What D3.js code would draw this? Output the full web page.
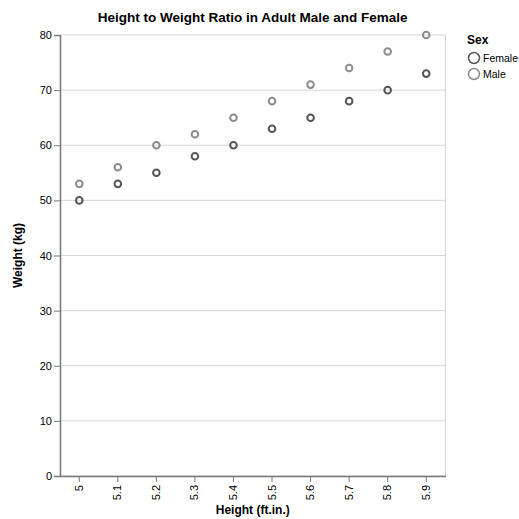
<!DOCTYPE html>
<html><head><meta charset="utf-8">
<script src="https://cdn.jsdelivr.net/npm/d3@7"></script>
<style>body{margin:0;background:#fff}svg{font-family:"Liberation Sans",Arial,sans-serif}</style>
</head><body>
<svg id="c" width="519" height="519"></svg>
<script>
const heights = ["5","5.1","5.2","5.3","5.4","5.5","5.6","5.7","5.8","5.9"];
const femaleWeights = [50,53,55,58,60,63,65,68,70,73];
const maleWeights = [53,56,60,62,65,68,71,74,77,80];
const sexes = ["Female","Male"];
const yTicks = [0,10,20,30,40,50,60,70,80];

const svg = d3.select("#c");
const m = {l:60, r:445.5, t:35, b:476};
const x = d3.scaleBand().domain(heights).range([m.l, m.r]);
const y = d3.scaleLinear().domain([0,80]).range([m.b, m.t]);
const color = d3.scaleOrdinal().domain(sexes).range(["#555555","#8c8c8c"]);

// grid
svg.append("g").selectAll("line").data(yTicks).join("line")
  .attr("x1", m.l).attr("x2", m.r).attr("y1", d=>y(d)).attr("y2", d=>y(d))
  .attr("stroke","#d6d6d6").attr("stroke-width",1);
svg.append("line").attr("x1",m.r).attr("x2",m.r).attr("y1",m.t).attr("y2",m.b).attr("stroke","#d6d6d6");

// y axis
const ya = svg.append("g").attr("transform",`translate(${m.l},0)`)
  .call(d3.axisLeft(y).tickValues(yTicks).tickSize(6).tickPadding(2));
ya.select(".domain").attr("stroke","#777").attr("stroke-width",1.5);
ya.selectAll(".tick line").attr("stroke","#777");
ya.selectAll("text").attr("font-size",11).attr("fill","#000").attr("font-family","Liberation Sans, Arial, sans-serif");

// x axis
const xa = svg.append("g").attr("transform",`translate(0,${m.b})`)
  .call(d3.axisBottom(x).tickSize(6).tickSizeOuter(0));
xa.select(".domain").attr("stroke","#777").attr("stroke-width",1.5);
xa.selectAll(".tick line").attr("stroke","#777");
xa.selectAll("text").attr("font-size",11).attr("fill","#000").attr("font-family","Liberation Sans, Arial, sans-serif")
  .attr("transform","rotate(-90)").attr("text-anchor","end").attr("dy","0.32em").attr("x",-9).attr("y",0);

// points
const series = [
  {sex:"Male", vals:maleWeights},
  {sex:"Female", vals:femaleWeights}
];
series.forEach(s=>{
  svg.append("g").selectAll("circle").data(s.vals).join("circle")
    .attr("cx",(d,i)=>x(heights[i])+x.bandwidth()/2)
    .attr("cy",d=>y(d))
    .attr("r",3.3)
    .attr("fill","none")
    .attr("stroke",color(s.sex))
    .attr("stroke-width",2);
});

// title
svg.append("text").attr("x",(m.l+m.r)/2).attr("y",22).attr("text-anchor","middle")
  .attr("font-size",13.5).attr("font-weight","bold").text("Height to Weight Ratio in Adult Male and Female");
// axis titles
svg.append("text").attr("x",(m.l+m.r)/2).attr("y",514).attr("text-anchor","middle")
  .attr("font-size",12).attr("font-weight","bold").text("Height (ft.in.)");
svg.append("text").attr("transform",`translate(22,${(m.t+m.b)/2}) rotate(-90)`).attr("text-anchor","middle")
  .attr("font-size",12).attr("font-weight","bold").text("Weight (kg)");

// legend
const lg = svg.append("g").attr("transform","translate(467,0)");
lg.append("text").attr("x",0).attr("y",44).attr("font-size",12).attr("font-weight","bold").text("Sex");
sexes.forEach((s,i)=>{
  const cy = 58 + i*16;
  lg.append("circle").attr("cx",7).attr("cy",cy).attr("r",5.5).attr("fill","none")
    .attr("stroke",color(s)).attr("stroke-width",1.5);
  lg.append("text").attr("x",16).attr("y",cy+4).attr("font-size",10.5).attr("fill","#000").text(s);
});
</script>
</body></html>
